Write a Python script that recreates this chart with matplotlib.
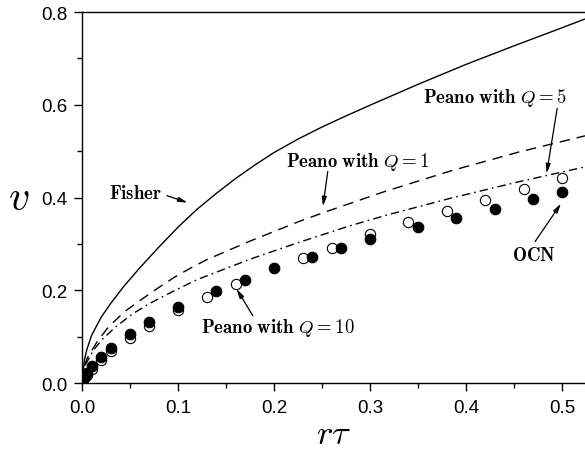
import matplotlib
matplotlib.use("Agg")
import matplotlib.pyplot as plt
from matplotlib.ticker import MultipleLocator, FormatStrFormatter

plt.rcParams["font.family"] = ["Liberation Sans", "DejaVu Sans"]
plt.rcParams["mathtext.fontset"] = "cm"

# Fisher front speed
fisher_x = [0.0, 0.0025, 0.005, 0.01, 0.02, 0.03, 0.043, 0.06, 0.08, 0.10, 0.12,
            0.14, 0.16, 0.18, 0.20, 0.225, 0.25, 0.275, 0.30, 0.35, 0.40, 0.45,
            0.50, 0.524]
fisher_v = [0.0, 0.050, 0.072, 0.103, 0.142, 0.172, 0.207, 0.248, 0.293, 0.336, 0.375,
            0.409, 0.441, 0.470, 0.497, 0.526, 0.552, 0.576, 0.599, 0.644, 0.687,
            0.727, 0.766, 0.785]

# Peano network, Q = 1
peano1_x = [0.0, 0.002, 0.005, 0.016, 0.028, 0.045, 0.0625, 0.08, 0.097, 0.115, 0.13,
            0.175, 0.227, 0.255, 0.314, 0.385, 0.455, 0.524]
peano1_v = [0.0, 0.033, 0.052, 0.090, 0.122, 0.155, 0.181, 0.206, 0.229, 0.250, 0.266,
            0.306, 0.349, 0.370, 0.412, 0.458, 0.498, 0.533]

# Peano network, Q = 5
peano5_x = [0.0, 0.002, 0.004, 0.012, 0.021, 0.035, 0.052, 0.069, 0.097, 0.12, 0.175,
            0.227, 0.279, 0.319, 0.385, 0.455, 0.524]
peano5_v = [0.0, 0.029, 0.041, 0.071, 0.094, 0.121, 0.148, 0.170, 0.200, 0.223, 0.267,
            0.304, 0.339, 0.363, 0.399, 0.434, 0.466]

# Peano network, Q = 10 (simulations)
peano10_x = [0.001, 0.003, 0.005, 0.01, 0.02, 0.03, 0.05, 0.07, 0.10, 0.13, 0.16,
             0.23, 0.26, 0.30, 0.34, 0.38, 0.42, 0.46, 0.50]
peano10_v = [0.006, 0.012, 0.018, 0.030, 0.050, 0.068, 0.098, 0.124, 0.157, 0.185, 0.213,
             0.270, 0.292, 0.322, 0.348, 0.372, 0.394, 0.418, 0.443]

# Optimal channel network (simulations)
ocn_x = [0.001, 0.003, 0.005, 0.01, 0.02, 0.03, 0.05, 0.07, 0.10, 0.14, 0.17, 0.20,
         0.24, 0.27, 0.30, 0.35, 0.39, 0.43, 0.47, 0.50]
ocn_v = [0.008, 0.015, 0.022, 0.036, 0.057, 0.076, 0.106, 0.131, 0.165, 0.198, 0.222,
         0.248, 0.272, 0.292, 0.311, 0.337, 0.355, 0.375, 0.396, 0.411]

fig = plt.figure(figsize=(5.85, 4.52), dpi=100)
ax = fig.add_axes([0.1402, 0.1504, 0.8598, 0.8208])

ax.plot(fisher_x, fisher_v, color="black", lw=1.0, solid_capstyle="butt")
ax.plot(peano1_x, peano1_v, color="black", lw=1.0, dashes=(7.5, 5))
ax.plot(peano5_x, peano5_v, color="black", lw=1.0, dashes=(6, 3, 1.2, 3))
ax.plot(peano10_x, peano10_v, linestyle="none", marker="o", ms=7.4,
        mfc="white", mec="black", mew=0.8)
ax.plot(ocn_x, ocn_v, linestyle="none", marker="o", ms=7.6,
        mfc="black", mec="black", mew=0.8)

ax.set_xlim(0.0, 0.524)
ax.set_ylim(0.0, 0.8)
ax.xaxis.set_major_locator(MultipleLocator(0.1))
ax.xaxis.set_minor_locator(MultipleLocator(0.05))
ax.yaxis.set_major_locator(MultipleLocator(0.2))
ax.yaxis.set_minor_locator(MultipleLocator(0.1))
ax.xaxis.set_major_formatter(FormatStrFormatter("%.1f"))
ax.yaxis.set_major_formatter(FormatStrFormatter("%.1f"))
ax.tick_params(which="both", direction="out", top=False, right=False,
               width=1.0, labelsize=13.5)
ax.tick_params(which="major", length=5.5, pad=5)
ax.tick_params(which="minor", length=3.5)
ax.tick_params(axis="x", which="major", pad=6)
for side in ("left", "bottom", "top"):
    ax.spines[side].set_linewidth(1.0)
ax.spines["right"].set_visible(False)

ax.set_xlabel(r"$r\tau$", fontsize=25, labelpad=1)
ax.set_ylabel(r"$v$", fontsize=30, rotation=0, labelpad=16, va="center")

lab = dict(fontsize=13.5, ha="center", va="center")
arrow = dict(arrowstyle="-|>,head_length=0.55,head_width=0.14", color="black",
             lw=0.9, shrinkA=0, shrinkB=0)

ax.text(0.056, 0.409, r"$\mathbf{Fisher}$", **lab)
ax.annotate("", xy=(0.110, 0.389), xytext=(0.0885, 0.404), arrowprops=arrow)

ax.text(0.287, 0.478, r"$\mathbf{Peano\ with}\ Q\mathbf{=1}$", **lab)
ax.annotate("", xy=(0.251, 0.381), xytext=(0.256, 0.456), arrowprops=arrow)

ax.text(0.430, 0.616, r"$\mathbf{Peano\ with}\ Q\mathbf{=5}$", **lab)
ax.annotate("", xy=(0.484, 0.452), xytext=(0.495, 0.592), arrowprops=arrow)

ax.text(0.2036, 0.121, r"$\mathbf{Peano\ with}\ Q\mathbf{=10}$", **lab)
ax.annotate("", xy=(0.161, 0.203), xytext=(0.178, 0.145), arrowprops=arrow)

ax.text(0.471, 0.275, r"$\mathbf{OCN}$", **lab)
ax.annotate("", xy=(0.499, 0.387), xytext=(0.472, 0.305), arrowprops=arrow)

fig.savefig("out.png", dpi=100)
